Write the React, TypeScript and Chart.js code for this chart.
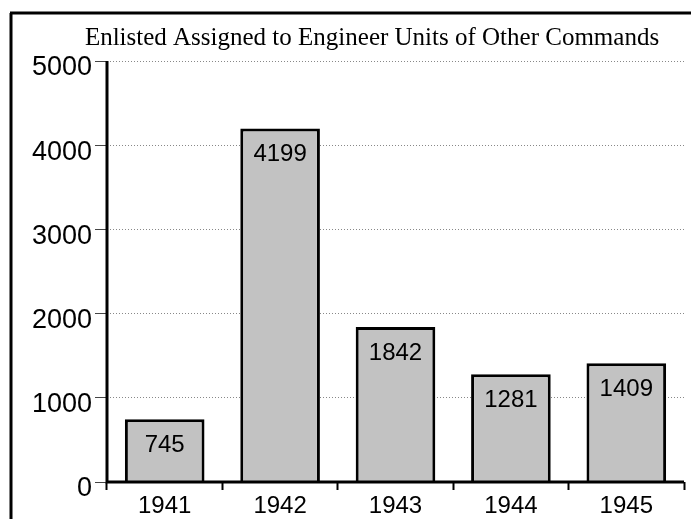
import React, { useEffect, useRef } from "react";
import { Chart, registerables } from "chart.js";

Chart.register(...registerables);

const TITLE = "Enlisted Assigned to Engineer Units of Other Commands";
const YEARS = ["1941", "1942", "1943", "1944", "1945"];
const ENLISTED = [745, 4199, 1842, 1281, 1409];
const Y_MIN = 0;
const Y_MAX = 5000;
const Y_STEP = 1000;

const framePlugin = {
  id: "frame",
  beforeDraw(chart: any) {
    const ctx = chart.ctx;
    ctx.save();
    ctx.fillStyle = "#ffffff";
    ctx.fillRect(0, 0, chart.width, chart.height);
    ctx.strokeStyle = "#000000";
    ctx.lineWidth = 3;
    ctx.beginPath();
    ctx.moveTo(10, 13);
    ctx.lineTo(chart.width, 13);
    ctx.moveTo(11, 13);
    ctx.lineTo(11, chart.height);
    ctx.stroke();
    ctx.fillStyle = "#000000";
    ctx.font = "25px 'Liberation Serif', 'DejaVu Serif', serif";
    ctx.textAlign = "center";
    ctx.textBaseline = "middle";
    ctx.fillText(TITLE, 372, 38);
    ctx.restore();
  },
  afterDatasetsDraw(chart: any) {
    const ctx = chart.ctx;
    const meta = chart.getDatasetMeta(0);
    ctx.save();
    ctx.fillStyle = "#000000";
    ctx.font = "24px 'Liberation Sans', Arial, sans-serif";
    ctx.textAlign = "center";
    ctx.textBaseline = "middle";
    meta.data.forEach((bar: any, i: number) => {
      ctx.fillText(String(ENLISTED[i]), bar.x, bar.y + 26);
    });
    const xs = chart.scales.x;
    const ys = chart.scales.y;
    ctx.strokeStyle = "#000000";
    ctx.lineWidth = 3;
    ctx.beginPath();
    ctx.moveTo(xs.left, ys.getPixelForValue(Y_MAX));
    ctx.lineTo(xs.left, ys.getPixelForValue(0) + 1.5);
    ctx.moveTo(xs.left, ys.getPixelForValue(0));
    ctx.lineTo(xs.right, ys.getPixelForValue(0));
    ctx.stroke();
    ctx.restore();
  },
};

export default function App() {
  const ref = useRef<HTMLCanvasElement | null>(null);
  useEffect(() => {
    if (!ref.current) return;
    const chart = new Chart(ref.current, {
      type: "bar",
      data: {
        labels: YEARS,
        datasets: [
          {
            data: ENLISTED,
            backgroundColor: "#c2c2c2",
            borderColor: "#000000",
            borderWidth: 3,
            barPercentage: 0.69,
            categoryPercentage: 1,
          },
        ],
      },
      options: {
        animation: false,
        responsive: false,
        devicePixelRatio: 1,
        layout: { padding: { top: 61, right: 7, left: 0, bottom: 0 } },
        plugins: {
          legend: { display: false },
          title: { display: false },
          tooltip: { enabled: false },
        },
        scales: {
          x: {
            afterFit: (s: any) => {
              s.height = 37;
            },
            grid: {
              display: true,
              drawOnChartArea: false,
              offset: true,
              tickLength: 8,
              tickColor: "#000000",
              tickWidth: 2,
            },
            border: { display: false },
            ticks: {
              color: "#000000",
              padding: 2,
              font: { family: "'Liberation Sans', Arial, sans-serif", size: 24 },
            },
          },
          y: {
            min: Y_MIN,
            max: Y_MAX,
            afterFit: (s: any) => {
              s.width = 107;
            },
            grid: {
              color: (c: any) => (c.tick && c.tick.value === 0 ? "rgba(0,0,0,0)" : "#888888"),
              lineWidth: 1,
              tickLength: 12,
              tickColor: "#444444",
              tickWidth: 1,
              tickBorderDash: [],
            },
            border: { display: false, dash: [1, 2] },
            ticks: {
              stepSize: Y_STEP,
              color: "#000000",
              padding: 3,
              labelOffset: 7,
              callback: (v: any) => String(v),
              font: { family: "'Liberation Sans', Arial, sans-serif", size: 27 },
            },
          },
        },
      },
      plugins: [framePlugin],
    });
    return () => chart.destroy();
  }, []);
  return (
    <div style={{ position: "fixed", left: 0, top: 0, width: 691, height: 519 }}>
      <canvas ref={ref} width={691} height={519} style={{ width: 691, height: 519 }} />
    </div>
  );
}
